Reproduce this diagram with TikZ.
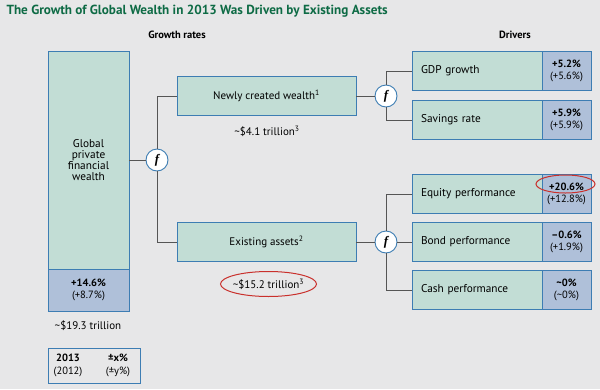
\documentclass[tikz,border=0pt]{standalone}
\usepackage{fontspec}
\setmainfont{PT Sans}
\newfontfamily\ffont{Liberation Serif}
\definecolor{bgc}{HTML}{E7E7E8}
\definecolor{titlegreen}{HTML}{0E6B45}
\definecolor{tealfill}{HTML}{C2DDD5}
\definecolor{bluefill}{HTML}{AFC0D9}
\definecolor{boxblue}{HTML}{3D7DB3}
\definecolor{linegray}{HTML}{555555}
\definecolor{markred}{HTML}{C9302C}
\begin{document}
\begin{tikzpicture}[x=1pt,y=-1pt,
  gbox/.style={draw=boxblue,fill=tealfill,line width=0.8pt,inner sep=0pt},
  bbox/.style={draw=boxblue,fill=bluefill,line width=0.8pt,inner sep=0pt,align=center,font=\fontsize{10.5}{12}\selectfont},
  conn/.style={draw=linegray,line width=1pt},
  fc/.style={circle,draw=boxblue,fill=white,line width=0.9pt,minimum size=22pt,inner sep=0pt,font=\ffont\bfseries\itshape\fontsize{13}{13}\selectfont},
  lbl/.style={font=\fontsize{11}{13}\selectfont},
  drvlbl/.style={gbox,minimum width=130pt,minimum height=39pt,text width=112pt,align=left,font=\fontsize{11.3}{12}\selectfont},
  drvval/.style={bbox,minimum width=49pt,minimum height=39pt},
  redmark/.style={draw=markred,line width=1pt}
]
\useasboundingbox[fill=bgc] (0,0) rectangle (600,389);

% title and headers
\node[anchor=west,text=titlegreen,font=\bfseries\fontsize{13.2}{16}\selectfont] (title) at (3,11) {The Growth of Global Wealth in 2013 Was Driven by Existing Assets};
\node[font=\bfseries\fontsize{10.5}{12}\selectfont] (hgr) at (177,35) {Growth rates};
\node[font=\bfseries\fontsize{10.5}{12}\selectfont] (hdr) at (515,35) {Drivers};

% global wealth
\node[gbox,minimum width=81pt,minimum height=218pt,align=center,font=\fontsize{11.3}{11}\selectfont] (gw) at (88.5,160) {Global\\private\\financial\\wealth};
\node[bbox,minimum width=81pt,minimum height=42pt] (gwv) at (88.5,290) {\textbf{+14.6\%}\\(+8.7\%)};
\node[lbl] (gwt) at (88,326) {\textasciitilde\$19.3 trillion};

% legend
\node[draw=boxblue,line width=0.8pt,minimum width=92pt,minimum height=35pt] (leg) at (94,365.5) {};
\node[align=center,font=\fontsize{10.5}{13}\selectfont] (leg1) at (68,365.5) {\textbf{2013}\\(2012)};
\node[align=center,font=\fontsize{10.5}{13}\selectfont] (leg2) at (118,365.5) {\textbf{±x\%}\\(±y\%)};

% level 1
\node[fc] (f1) at (157,160) {f};
\node[gbox,minimum width=179pt,minimum height=39pt,lbl] (nw) at (266.5,96) {Newly created wealth\textsuperscript{1}};
\node[gbox,minimum width=179pt,minimum height=39pt,lbl] (ea) at (266.5,242) {Existing assets\textsuperscript{2}};
\node[lbl] (nwt) at (267,131) {\textasciitilde\$4.1 trillion\textsuperscript{3}};
\node[lbl] (eat) at (268.5,284) {\textasciitilde\$15.2 trillion\textsuperscript{3}};
\draw[redmark] (eat) ellipse [x radius=48pt, y radius=12.5pt];

\draw[conn] (gw.east |- f1) -- (f1);
\draw[conn] (f1.north) |- (nw.west);
\draw[conn] (f1.south) |- (ea.west);

% level 2
\node[fc] (f2) at (386,96) {f};
\node[fc] (f3) at (386,242) {f};
\draw[conn] (nw.east) -- (f2);
\draw[conn] (ea.east) -- (f3);

\node[drvlbl] (gdp) at (477,71) {GDP growth};
\node[drvval] (gdpv) at (566.5,71) {\textbf{+5.2\%}\\(+5.6\%)};
\node[drvlbl] (sav) at (477,120) {Savings rate};
\node[drvval] (savv) at (566.5,120) {\textbf{+5.9\%}\\(+5.9\%)};
\node[drvlbl] (eq) at (477,194) {Equity performance};
\node[drvval] (eqv) at (566.5,194) {\textbf{+20.6\%}\\(+12.8\%)};
\node[drvlbl] (bo) at (477,242) {Bond performance};
\node[drvval] (bov) at (566.5,242) {\textbf{–0.6\%}\\(+1.9\%)};
\node[drvlbl] (ca) at (477,290) {Cash performance};
\node[drvval] (cav) at (566.5,290) {\textbf{\textasciitilde0\%}\\(\textasciitilde0\%)};

\draw[conn] (f2.north) |- (gdp.west);
\draw[conn] (f2.south) |- (sav.west);
\draw[conn] (f3.north) |- (eq.west);
\draw[conn] (f3.east) -- (bo.west);
\draw[conn] (f3.south) |- (ca.west);

\coordinate (eqmark) at (565.5,184);
\draw[redmark] (eqmark) ellipse [x radius=29.5pt, y radius=9pt];
\end{tikzpicture}
\end{document}
